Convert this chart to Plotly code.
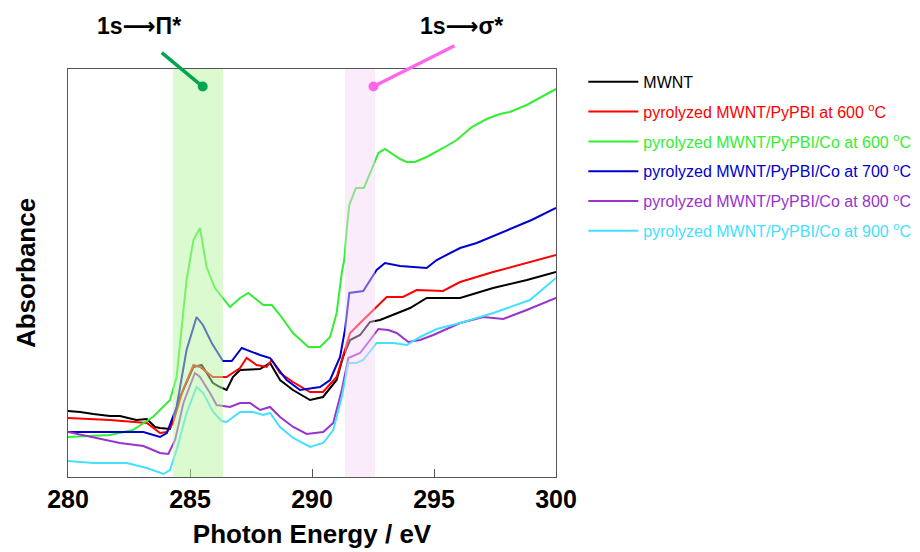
import plotly.graph_objects as go

# ---------------- data (photon energy in eV, absorbance in arbitrary units) ----------------
mwnt_x = [280.0, 280.5, 281.04, 281.72, 282.13, 282.8, 283.23, 283.57, 283.77, 284.18, 284.59, 285.14, 285.48,
          285.94, 286.23, 286.5, 286.76, 287.05, 287.87, 288.28, 288.69, 289.22, 289.92, 290.45, 291.01,
          291.27, 291.56, 291.97, 292.38, 292.79, 294.02, 294.7, 296.07, 297.42, 298.81, 300.0]
mwnt_y = [66, 65, 63, 61, 61, 57, 58, 50, 49, 48, 80, 110, 112,
          94, 90, 87, 100, 107, 108, 114, 97, 87, 77, 80, 97,
          120, 137, 142, 155, 157, 169, 179, 179, 189, 197, 205]

p600_x = [280.0, 281.72, 283.23, 283.77, 284.05, 284.3, 284.71, 285.14, 285.41, 285.94, 286.5, 287.05, 287.32,
          287.73, 288.14, 288.35, 288.69, 289.22, 289.92, 290.45, 291.01, 291.56, 291.97, 292.5, 293.06,
          293.73, 294.29, 295.37, 296.07, 297.42, 298.81, 300.0]
p600_y = [59, 57, 54, 44, 45, 54, 87, 112, 110, 100, 100, 109, 119,
          112, 110, 117, 104, 95, 85, 85, 100, 144, 154, 167, 180,
          180, 187, 186, 195, 205, 214, 222]

co600_x = [280.0, 281.72, 282.66, 283.48, 284.18, 284.45, 284.86, 285.0, 285.14, 285.41, 285.68, 286.02, 286.64,
           287.05, 287.39, 288.0, 288.35, 288.69, 289.22, 289.85, 290.33, 290.74, 291.01, 291.22, 291.32,
           291.42, 291.53, 291.8, 292.13, 292.72, 292.99, 293.61, 293.88, 294.22, 294.7, 295.38, 295.93,
           296.55, 297.16, 297.7, 298.11, 298.8, 299.34, 300.0]
co600_y = [40, 42, 47, 60, 77, 100, 197, 217, 237, 249, 210, 189, 170,
           179, 184, 172, 172, 162, 144, 130, 130, 140, 164, 204, 217,
           247, 272, 289, 289, 324, 328, 318, 315, 315, 320, 329, 337,
           350, 358, 363, 365, 372, 379, 388]

co700_x = [280.0, 281.72, 283.09, 283.77, 284.05, 284.45, 284.86, 285.27, 285.53, 285.89, 286.35, 286.71, 287.12,
           287.87, 288.28, 288.96, 289.51, 290.33, 290.74, 291.15, 291.35, 291.53, 292.1, 292.65, 292.99,
           293.61, 294.7, 295.11, 296.07, 296.75, 297.98, 299.0, 300.0]
co700_y = [45, 45, 45, 40, 44, 70, 127, 160, 152, 134, 116, 116, 129,
           122, 119, 97, 87, 90, 97, 120, 147, 184, 186, 207, 214,
           211, 209, 217, 229, 234, 247, 257, 269]

co800_x = [280.0, 281.04, 282.13, 283.09, 283.77, 284.11, 284.39, 284.73, 285.2, 285.41, 285.82, 286.09, 286.64,
           287.05, 287.46, 287.87, 288.28, 288.69, 289.23, 289.78, 290.46, 290.87, 291.22, 291.49, 291.97,
           292.38, 292.72, 293.13, 293.47, 293.95, 294.43, 294.97, 296.07, 297.02, 297.84, 298.8, 300.0]
co800_y = [45, 40, 34, 31, 24, 23, 37, 74, 104, 100, 84, 72, 70,
           74, 74, 67, 70, 60, 50, 43, 45, 54, 87, 119, 124,
           137, 148, 147, 144, 135, 137, 142, 154, 160, 158, 167, 179]

co900_x = [280.0, 281.04, 282.41, 283.23, 283.91, 284.18, 284.45, 284.86, 285.27, 285.54, 285.95, 286.3, 286.5,
           287.05, 287.59, 288.0, 288.28, 288.69, 289.23, 289.92, 290.46, 290.87, 291.22, 291.49, 291.83,
           292.1, 292.65, 293.33, 293.88, 294.43, 295.11, 296.07, 297.43, 298.11, 298.93, 300.0]
co900_y = [16, 14, 14, 9, 3, 7, 27, 64, 90, 84, 65, 56, 55,
           65, 65, 62, 64, 50, 39, 30, 34, 47, 80, 114, 114,
           117, 134, 134, 132, 140, 148, 154, 164, 170, 177, 199]

series_names = ["MWNT",
                "pyrolyzed MWNT/PyPBI at 600 <sup>o</sup>C",
                "pyrolyzed MWNT/PyPBI/Co at 600 <sup>o</sup>C",
                "pyrolyzed MWNT/PyPBI/Co at 700 <sup>o</sup>C",
                "pyrolyzed MWNT/PyPBI/Co at 800 <sup>o</sup>C",
                "pyrolyzed MWNT/PyPBI/Co at 900 <sup>o</sup>C"]
series_colors = ["#000000", "#ff0000", "#33ee33", "#0000cc", "#9933cc", "#44e0ff"]

pi_band = [284.3, 286.35]
sigma_band = [291.35, 292.58]
x_ticks = [280, 285, 290, 295, 300]

# ---------------- figure ----------------
FONT = "Arial, Liberation Sans, sans-serif"
fig = go.Figure()
xs = [mwnt_x, p600_x, co600_x, co700_x, co800_x, co900_x]
ys = [mwnt_y, p600_y, co600_y, co700_y, co800_y, co900_y]
for i, (x, y) in enumerate(zip(xs, ys)):
    fig.add_trace(go.Scatter(
        x=x, y=y, mode="lines",
        line=dict(color=series_colors[i], width=2),
        name=f"<span style='color:{series_colors[i]}'>{series_names[i]}</span>",
        legendgroup=f"g{i}",
    ))

shapes = [
    dict(type="rect", xref="x", yref="paper", x0=pi_band[0], x1=pi_band[1], y0=0, y1=1,
         fillcolor="rgb(185,245,160)", opacity=0.5, line=dict(width=0), layer="above"),
    dict(type="rect", xref="x", yref="paper", x0=sigma_band[0], x1=sigma_band[1], y0=0, y1=1,
         fillcolor="rgb(245,212,245)", opacity=0.45, line=dict(width=0), layer="above"),
    # connector lines to the labels
    dict(type="line", xref="paper", yref="paper", x0=0.192, y0=1.040, x1=0.276, y1=0.957,
         line=dict(color="#00a651", width=3.5), layer="above"),
    dict(type="circle", xref="paper", yref="paper", xsizemode="pixel", ysizemode="pixel",
         xanchor=0.276, yanchor=0.957, x0=-5, x1=5, y0=-5, y1=5,
         fillcolor="#00a651", line=dict(width=0), layer="above"),
    dict(type="line", xref="paper", yref="paper", x0=0.792, y0=1.057, x1=0.626, y1=0.957,
         line=dict(color="#ff66ee", width=3.5), layer="above"),
    dict(type="circle", xref="paper", yref="paper", xsizemode="pixel", ysizemode="pixel",
         xanchor=0.626, yanchor=0.957, x0=-5, x1=5, y0=-5, y1=5,
         fillcolor="#ff66ee", line=dict(width=0), layer="above"),
]

ARROW = "<span style='font-family:DejaVu Sans'>⟶</span>"
annotations = [
    dict(text=f"<b>1s{ARROW}Π*</b>", xref="paper", yref="paper", x=0.146, y=1.105,
         xanchor="center", yanchor="middle",
         showarrow=False, font=dict(family=FONT, size=23, color="#000")),
    dict(text=f"<b>1s{ARROW}σ*</b>", xref="paper", yref="paper", x=0.806, y=1.105,
         xanchor="center", yanchor="middle",
         showarrow=False, font=dict(family=FONT, size=23, color="#000")),
]

# the page body adds an 8px offset, so the figure is sized/margined to compensate
fig.update_layout(
    width=904, height=541,
    margin=dict(l=60, r=356, t=61, b=72, autoexpand=False),
    plot_bgcolor="white", paper_bgcolor="white",
    font=dict(family=FONT, color="#000"),
    shapes=shapes, annotations=annotations,
    showlegend=True,
    legend=dict(x=1.056, y=1.01, xanchor="left", yanchor="top",
                font=dict(family=FONT, size=16), tracegroupgap=6,
                bgcolor="rgba(0,0,0,0)", itemwidth=50),
    xaxis=dict(range=[280, 300], tickvals=x_ticks, ticks="inside", ticklen=8,
               tickcolor="#555", showline=True, mirror=True, linecolor="#555", linewidth=1,
               showgrid=False, zeroline=False, automargin=False,
               tickfont=dict(family=FONT, size=25, weight="bold"),
               title=dict(text="<b>Photon Energy / eV</b>", font=dict(family=FONT, size=26), standoff=20)),
    yaxis=dict(range=[0, 408], showticklabels=False, ticks="", showline=True, mirror=True,
               linecolor="#555", linewidth=1, showgrid=False, zeroline=False, automargin=False,
               title=dict(text="<b>Absorbance</b>", font=dict(family=FONT, size=26), standoff=23)),
)

fig.write_html("out.html")
